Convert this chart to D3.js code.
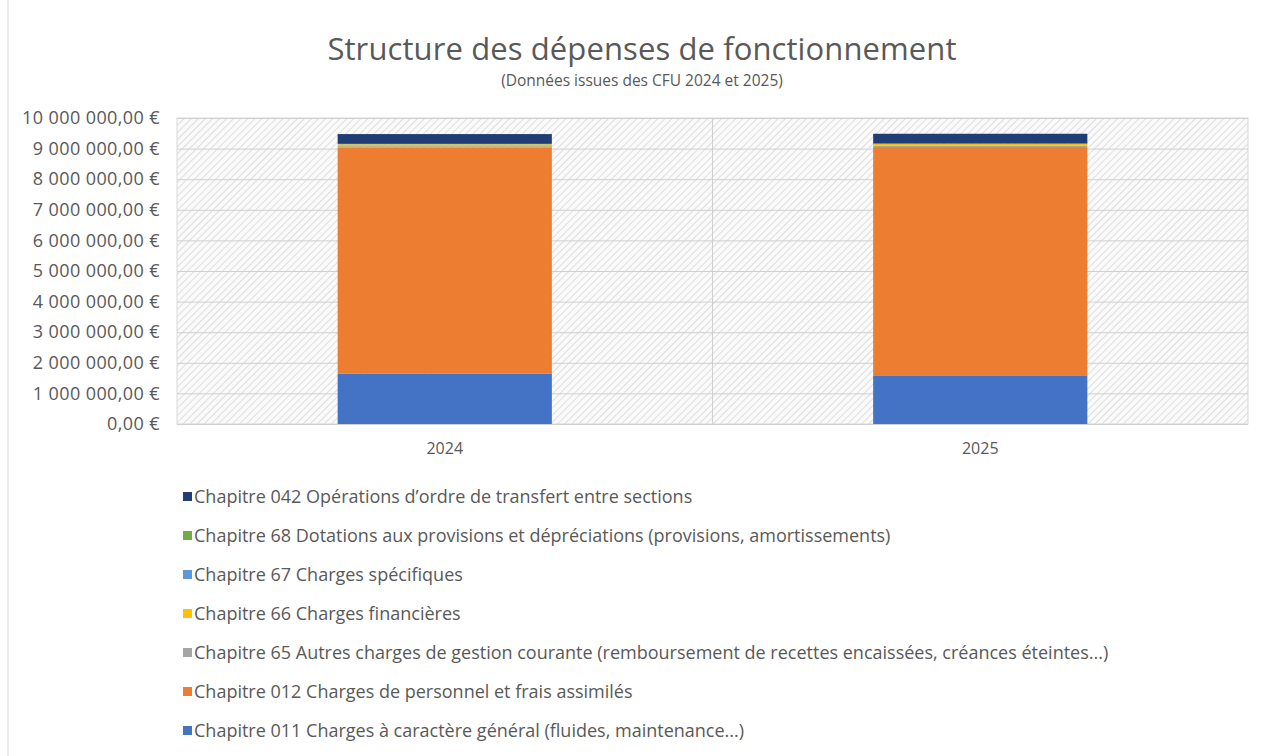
<!DOCTYPE html>
<html>
<head>
<meta charset="utf-8">
<script src="https://cdn.jsdelivr.net/npm/d3@7"></script>
<style>
  body { margin: 0; background: #fff; }
  text { font-family: "Open Sans", "Liberation Sans", sans-serif; fill: #595959; }
</style>
</head>
<body>
<div id="chart"></div>
<script>
// chart data
var years = ["2024", "2025"];
var chapters = ["Chapitre 011 Charges à caractère général (fluides, maintenance...)",
  "Chapitre 012 Charges de personnel et frais assimilés",
  "Chapitre 65 Autres charges de gestion courante (remboursement de recettes encaissées, créances éteintes...)",
  "Chapitre 66 Charges financières",
  "Chapitre 67 Charges spécifiques",
  "Chapitre 68 Dotations aux provisions et dépréciations (provisions, amortissements)",
  "Chapitre 042 Opérations d’ordre de transfert entre sections"];
var colors = ["#4472C4", "#ED7D31", "#A5A5A5", "#FFC000", "#5B9BD5", "#70AD47", "#203E75"];
var values2024 = [1640000, 7400000, 40000, 60000, 5000, 10000, 320000];
var values2025 = [1570000, 7480000, 40000, 60000, 5000, 10000, 320000];
var yTicks = [0, 1000000, 2000000, 3000000, 4000000, 5000000, 6000000, 7000000, 8000000, 9000000, 10000000];

var svgWidth = 1263;
var svgHeight = 756;

var margin = { top: 118, left: 177, right: 15, bottom: 332 };
var width = svgWidth - margin.left - margin.right;
var height = svgHeight - margin.top - margin.bottom;

var svg = d3.select("#chart")
  .append("svg")
  .attr("width", svgWidth)
  .attr("height", svgHeight);

// hatch for the plot area
var defs = svg.append("defs");
var pat = defs.append("pattern")
  .attr("id", "hatch")
  .attr("patternUnits", "userSpaceOnUse")
  .attr("width", 5).attr("height", 5)
  .attr("patternTransform", "rotate(45)");
pat.append("rect").attr("width", 5).attr("height", 5).attr("fill", "#fafafa");
pat.append("line").attr("x1", 0).attr("y1", 0).attr("x2", 0).attr("y2", 5)
  .attr("stroke", "#dedede").attr("stroke-width", 2);

// outer frame line
svg.append("line")
  .attr("x1", 8).attr("x2", 8).attr("y1", 0).attr("y2", svgHeight)
  .attr("stroke", "#d9d9d9");

var chartGroup = svg.append("g")
  .attr("transform", `translate(${margin.left}, ${margin.top})`);

var rows = years.map(function (y, i) {
  var r = { year: y };
  var v = i == 0 ? values2024 : values2025;
  chapters.forEach(function (c, j) { r[c] = v[j]; });
  return r;
});

var stack = d3.stack().keys(chapters)(rows);

var xScale = d3.scaleBand()
  .domain(years)
  .range([0, width])
  .paddingInner(0)
  .paddingOuter(0);

var yScale = d3.scaleLinear()
  .domain([0, 10000000])
  .range([height, 0]);

var fr = d3.formatLocale({ decimal: ",", thousands: " ", grouping: [3], currency: ["", " €"] });
var fmt = fr.format(",.2f");

chartGroup.append("rect")
  .attr("width", width).attr("height", height)
  .attr("fill", "url(#hatch)")
  .attr("stroke", "#d9d9d9");

// gridlines
chartGroup.append("g")
  .call(d3.axisLeft(yScale).tickValues(yTicks).tickSize(-width).tickFormat(""))
  .call(g => g.select(".domain").remove())
  .selectAll("line").attr("stroke", "#d0d0d0");

// category divider
chartGroup.append("line")
  .attr("x1", xScale("2025")).attr("x2", xScale("2025"))
  .attr("y1", 0).attr("y2", height)
  .attr("stroke", "#d0d0d0");

// y labels
var yAxis = chartGroup.append("g")
  .call(d3.axisLeft(yScale).tickValues(yTicks).tickSize(0).tickPadding(17)
    .tickFormat(d => fmt(d) + " €"));
yAxis.select(".domain").remove();
yAxis.selectAll("text").style("font-size", "18px").attr("fill", "#595959")
  .style("letter-spacing", "0.4px");

// x labels
var xAxis = chartGroup.append("g")
  .attr("transform", `translate(0, ${height})`)
  .call(d3.axisBottom(xScale).tickSize(0).tickPadding(19));
xAxis.select(".domain").remove();
xAxis.selectAll("text").style("font-size", "16px").attr("fill", "#595959");

// bars
var barW = xScale.bandwidth() * 0.4;
chartGroup.selectAll(".layer")
  .data(stack)
  .enter().append("g")
  .attr("fill", (d, i) => colors[i])
  .selectAll("rect")
  .data(d => d)
  .enter().append("rect")
  .attr("x", d => xScale(d.data.year) + (xScale.bandwidth() - barW) / 2)
  .attr("y", d => yScale(d[1]))
  .attr("width", barW)
  .attr("height", d => yScale(d[0]) - yScale(d[1]));

// titles
svg.append("text")
  .attr("x", 642).attr("y", 60)
  .attr("text-anchor", "middle")
  .style("font-size", "31px")
  .style("letter-spacing", "0.1px")
  .text("Structure des dépenses de fonctionnement");

svg.append("text")
  .attr("x", 642).attr("y", 86)
  .attr("text-anchor", "middle")
  .style("font-size", "15.5px")
  .text("(Données issues des CFU 2024 et 2025)");

// legend, reverse order
var legend = svg.append("g").attr("transform", "translate(183, 497)");
var items = legend.selectAll("g")
  .data(chapters.slice().reverse())
  .enter().append("g")
  .attr("transform", (d, i) => `translate(0, ${i * 39})`);

items.append("rect")
  .attr("x", 0).attr("y", -5)
  .attr("width", 9).attr("height", 9)
  .attr("fill", (d, i) => colors[chapters.length - 1 - i]);

items.append("text")
  .attr("x", 11).attr("y", 0)
  .attr("dy", "0.35em")
  .style("font-size", "18px")
  .text(d => d);
</script>
</body>
</html>
